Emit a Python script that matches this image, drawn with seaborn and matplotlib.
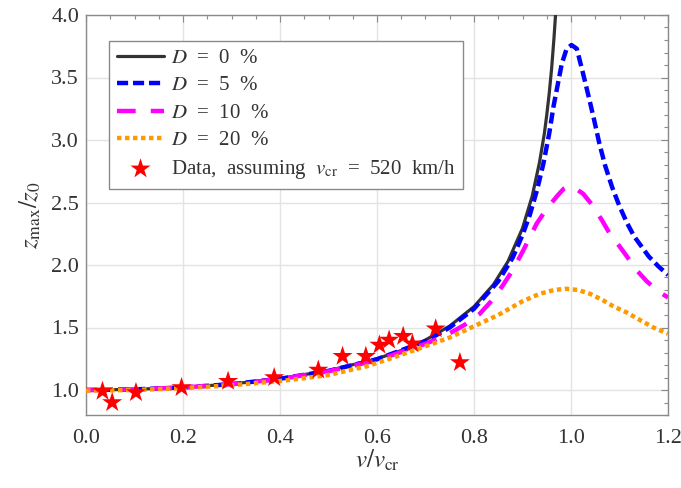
import numpy as np
import pandas as pd
import matplotlib
matplotlib.use("Agg")
import matplotlib.pyplot as plt
import seaborn as sns
from matplotlib.ticker import MultipleLocator

# ---------------- data ----------------
r_d0 = [0, 0.1, 0.2, 0.3, 0.4, 0.5, 0.6, 0.65, 0.7, 0.75, 0.8, 0.84, 0.87, 0.9,
        0.92, 0.935, 0.945, 0.95, 0.955, 0.96, 0.965, 0.97]
z_d0 = [1.0, 1.005, 1.021, 1.048, 1.091, 1.155, 1.25, 1.316, 1.40, 1.512, 1.667,
        1.843, 2.028, 2.294, 2.551, 2.82, 3.05, 3.20, 3.37, 3.57, 3.82, 4.11]

r_d5 = [0, 0.1, 0.2, 0.3, 0.4, 0.5, 0.6, 0.7, 0.75, 0.8, 0.85, 0.88, 0.9, 0.915,
        0.93, 0.943, 0.955, 0.964, 0.973, 0.981, 0.991, 1.001, 1.012, 1.025, 1.035,
        1.046, 1.058, 1.07, 1.085, 1.1, 1.115, 1.13, 1.145, 1.16, 1.18, 1.2]
z_d5 = [1.0, 1.005, 1.02, 1.047, 1.09, 1.153, 1.246, 1.39, 1.50, 1.65, 1.87, 2.06,
        2.24, 2.40, 2.60, 2.81, 3.05, 3.27, 3.45, 3.61, 3.73, 3.76, 3.73, 3.53, 3.37,
        3.19, 2.98, 2.80, 2.62, 2.47, 2.34, 2.23, 2.15, 2.07, 1.99, 1.92]

r_d10 = [0, 0.1, 0.2, 0.3, 0.4, 0.5, 0.6, 0.7, 0.744, 0.78, 0.812, 0.84, 0.86, 0.88,
         0.902, 0.929, 0.95, 0.971, 0.985, 0.995, 1.01, 1.025, 1.046, 1.065, 1.08,
         1.1, 1.115, 1.135, 1.156, 1.18, 1.2]
z_d10 = [1.0, 1.005, 1.02, 1.046, 1.088, 1.15, 1.238, 1.37, 1.44, 1.52, 1.61, 1.73,
         1.84, 1.96, 2.12, 2.33, 2.45, 2.55, 2.61, 2.63, 2.61, 2.57, 2.47, 2.35, 2.25,
         2.15, 2.07, 1.96, 1.87, 1.79, 1.74]

r_d20 = [0, 0.1, 0.2, 0.3, 0.4, 0.441, 0.5, 0.579, 0.634, 0.7, 0.75, 0.8, 0.85, 0.9,
         0.936, 0.965, 0.99, 1.015, 1.039, 1.065, 1.087, 1.115, 1.142, 1.17, 1.2]
z_d20 = [0.995, 1.0, 1.015, 1.038, 1.072, 1.09, 1.12, 1.19, 1.26, 1.35, 1.42, 1.51,
         1.60, 1.71, 1.77, 1.80, 1.81, 1.80, 1.77, 1.72, 1.67, 1.62, 1.56, 1.50, 1.45]

data_r = [0.034, 0.054, 0.103, 0.197, 0.293, 0.388, 0.479, 0.529, 0.577, 0.605,
          0.625, 0.654, 0.673, 0.721, 0.771]
data_z = [0.99, 0.90, 0.98, 1.02, 1.07, 1.10, 1.16, 1.27, 1.27, 1.36,
          1.40, 1.43, 1.37, 1.49, 1.22]

labels = [r"$D$  =  0  %", r"$D$  =  5  %", r"$D$  =  10  %", r"$D$  =  20  %"]
data_label = r"Data,  assuming  $v_{\mathrm{cr}}$  =  520  km/h"

# ---------------- style ----------------
sns.set_theme(style="white")
plt.rcParams["font.family"] = ["Liberation Serif", "DejaVu Serif"]
plt.rcParams["mathtext.fontset"] = "stix"
plt.rcParams["text.color"] = "#333333"
plt.rcParams["axes.labelcolor"] = "#333333"

fig = plt.figure(figsize=(6.81, 4.88), dpi=100)
ax = fig.add_axes([86 / 681, 1 - 415 / 488, (668 - 86) / 681, (415 - 15) / 488])

series = [
    (r_d0, z_d0, labels[0], "#333333", 2.3, "-"),
    (r_d5, z_d5, labels[1], "#0000ff", 3.2, (0, (2.5, 1.1))),
    (r_d10, z_d10, labels[2], "#ff00ff", 3.2, (0, (4.2, 3.4))),
    (r_d20, z_d20, labels[3], "#ff9900", 3.2, (0, (1.0, 0.8))),
]
for r, z, lab, col, lw, ls in series:
    df = pd.DataFrame({"r": r, "z": z})
    sns.lineplot(data=df, x="r", y="z", ax=ax, color=col, linewidth=lw,
                 linestyle=ls, label=lab, sort=False, estimator=None,
                 dash_capstyle="butt", zorder=3)

dfd = pd.DataFrame({"r": data_r, "z": data_z})
sns.scatterplot(data=dfd, x="r", y="z", ax=ax, marker="*", s=230, color="#ff0000",
                edgecolor="none", linewidth=0, label=data_label, zorder=5)

ax.set_xlim(0, 1.2)
ax.set_ylim(0.8, 4.0)
ax.xaxis.set_minor_locator(MultipleLocator(0.05))
ax.yaxis.set_minor_locator(MultipleLocator(0.1))
ax.set_xticks(np.arange(0, 1.21, 0.2))
ax.set_xticklabels([f"{v:.1f}" for v in np.arange(0, 1.21, 0.2)])
ax.set_yticks(np.arange(1.0, 4.01, 0.5))
ax.set_yticklabels([f"{v:.1f}" for v in np.arange(1.0, 4.01, 0.5)])

ax.grid(True, which="major", color="#e3e3e3", linewidth=1.0, zorder=0)
ax.set_axisbelow(True)
for sp in ax.spines.values():
    sp.set_color("#8a8a8a")
    sp.set_linewidth(1.0)
ax.tick_params(which="both", direction="in", top=True, right=True,
               color="#8a8a8a", labelcolor="#333333", labelsize=16)
ax.tick_params(which="major", length=5, width=0.8)
ax.tick_params(which="minor", length=3, width=0.8)
ax.tick_params(axis="x", which="major", pad=10)
ax.tick_params(axis="y", which="major", pad=5)

ax.set_xlabel(r"$v/v_{\mathrm{cr}}$", fontsize=18, labelpad=0)
ax.set_ylabel(r"$z_{\mathrm{max}}/z_0$", fontsize=18, labelpad=6)

leg = ax.legend(loc="upper left", bbox_to_anchor=(0.04, 0.935), borderaxespad=0,
                fontsize=15, frameon=True, fancybox=False, framealpha=1,
                edgecolor="#8a8a8a", handlelength=2.3, handletextpad=0.3,
                labelspacing=0.38, borderpad=0.35)
leg.get_frame().set_linewidth(1.0)

fig.savefig("out.png", dpi=100)
